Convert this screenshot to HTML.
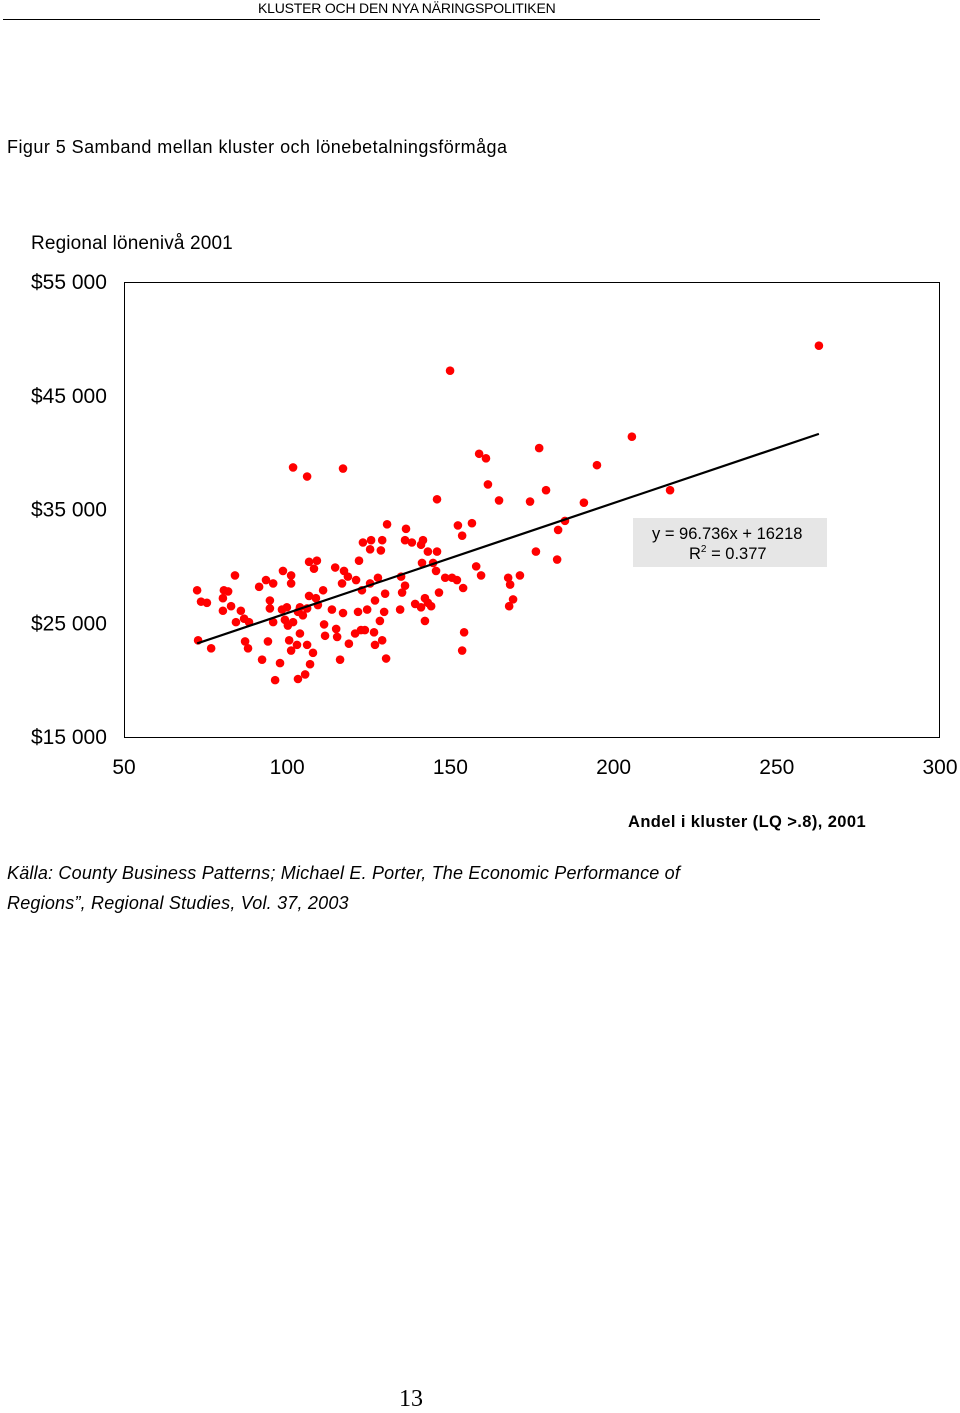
<!DOCTYPE html>
<html><head><meta charset="utf-8"><style>
body{margin:0;width:960px;height:1411px;background:#fff;position:relative;font-family:"Liberation Sans",sans-serif;overflow:hidden}
.t{position:absolute;white-space:nowrap;color:#000}
</style></head><body>
<div class="t" style="left:258px;top:0px;font-size:14px;letter-spacing:-0.2px">KLUSTER OCH DEN NYA NÄRINGSPOLITIKEN</div>
<div style="position:absolute;left:3px;top:19px;width:817px;height:1px;background:#000"></div>
<div class="t" style="left:7px;top:137px;font-size:18px;letter-spacing:0.45px">Figur 5 Samband mellan kluster och lönebetalningsförmåga</div>
<div class="t" style="left:31px;top:233px;font-size:19px;letter-spacing:0.15px">Regional lönenivå 2001</div>
<div class="t" style="left:628px;top:813px;font-size:16.5px;font-weight:bold;letter-spacing:0.4px">Andel i kluster (LQ &gt;.8), 2001</div>
<div class="t" style="left:7px;top:858px;font-size:18px;font-style:italic;line-height:30px;letter-spacing:0.2px">Källa: County Business Patterns; Michael E. Porter, The Economic Performance of<br>Regions”, Regional Studies, Vol. 37, 2003</div>
<div class="t" style="left:399px;top:1386px;font-size:24px;font-family:'Liberation Serif',serif">13</div>
<svg id="chart" width="960" height="800" style="position:absolute;left:0;top:0" font-family="Liberation Sans, sans-serif"></svg>
<script>
const xTicks=[50,100,150,200,250,300];
const yTicks=[15000,25000,35000,45000,55000];
const yTickLabels=["$15 000","$25 000","$35 000","$45 000","$55 000"];
const slope=96.736, intercept=16218;
const xs=[72.4,73.6,75.4,72.7,76.7,80.6,81.9,80.3,84.0,82.8,80.3,85.8,84.3,86.8,88.3,87.1,88.0,91.4,93.5,95.7,92.3,96.3,94.7,94.7,95.7,94.1,98.7,101.2,101.2,98.4,99.9,99.3,100.2,101.8,100.6,97.8,103.9,103.3,104.8,106.1,103.9,101.2,103.0,106.1,107.9,107.0,105.5,103.3,106.7,109.1,108.2,108.8,106.7,109.4,111.3,111.0,113.7,111.6,115.0,115.3,114.7,117.4,118.6,116.8,121.1,117.1,116.2,118.9,120.8,122.6,121.7,124.5,122.9,125.4,127.8,126.9,130.0,123.2,125.7,125.4,129.1,128.7,130.6,122.0,123.8,126.6,126.9,129.1,130.3,128.4,129.7,134.9,136.1,135.2,136.4,136.1,138.2,141.0,141.6,143.1,145.9,141.3,144.7,145.6,148.4,150.5,152.0,139.2,141.0,143.1,144.1,142.2,146.5,142.2,134.6,153.9,157.9,159.4,153.6,152.3,156.6,154.2,153.6,145.9,149.9,101.8,106.1,117.1,158.8,160.9,161.5,164.9,167.7,168.3,171.3,169.2,168.0,174.4,176.2,177.2,179.3,183.0,182.7,185.1,190.9,194.9,205.6,217.3,262.9];
const ys=[27900,26900,26800,23500,22800,27900,27800,27200,29200,26500,26100,26100,25100,25400,25100,23400,22800,28200,28800,28500,21800,20000,27000,26300,25100,23400,29600,29200,28500,26200,26400,25300,24800,25100,23500,21500,26400,26000,25700,26300,24100,22600,23100,23100,22400,21400,20500,20100,30400,30500,29800,27200,27400,26600,24900,27900,26200,23900,24500,23800,29900,29600,29100,28500,28800,25900,21800,23200,24100,24400,26000,26200,27900,28500,29000,27000,27600,32100,32300,31500,32300,31400,33700,30500,24400,24200,23100,23500,21900,25200,26000,29100,28300,27700,33300,32300,32100,31900,32300,31300,31300,30300,30300,29600,29000,29000,28800,26700,26400,26800,26500,27200,27700,25200,26200,28100,30000,29200,32700,33600,33800,24200,22600,35900,47200,38700,37900,38600,39900,39500,37200,35800,29000,28400,29200,27100,26500,35700,31300,40400,36700,33200,30600,34000,35600,38900,41400,36700,49400];
const svg=document.getElementById('chart');
const NS='http://www.w3.org/2000/svg';
const L=124,R=940,T=282,B=737;
const sx=v=>L+(v-50)/(300-50)*(R-L);
const sy=v=>B-(v-15000)/(55000-15000)*(B-T);
function mk(tag,attrs){const e=document.createElementNS(NS,tag);for(const k in attrs)e.setAttribute(k,attrs[k]);svg.appendChild(e);return e;}
const frame=mk('rect',{x:L+0.5,y:T+0.5,width:R-L-1,height:B-T,fill:'none',stroke:'#000','stroke-width':1});


xTicks.forEach(v=>{const t=mk('text',{x:sx(v),y:774,'font-size':21,'text-anchor':'middle'});t.textContent=v;

});
yTicks.forEach((v,i)=>{const t=mk('text',{x:31,y:sy(v)+7,'font-size':21});t.textContent=yTickLabels[i];

});
xs.forEach((x,i)=>{const c=mk('circle',{cx:sx(x),cy:sy(ys[i]),r:4.3,fill:'#f00'});

});
const x0=Math.min(...xs),x1=Math.max(...xs);
const ln=mk('line',{x1:sx(x0),y1:sy(slope*x0+intercept),x2:sx(x1),y2:sy(slope*x1+intercept),stroke:'#000','stroke-width':2.2});


const box=mk('rect',{x:633,y:518,width:194,height:49,fill:'#e6e6e6'});


const eq=mk('text',{x:652,y:539,'font-size':16.5});eq.textContent='y = 96.736x + 16218';


const r2=mk('text',{x:689,y:559,'font-size':16.5});r2.innerHTML='R<tspan font-size="10" dy="-7">2</tspan><tspan dy="7"> = 0.377</tspan>';


</script>
</body></html>
